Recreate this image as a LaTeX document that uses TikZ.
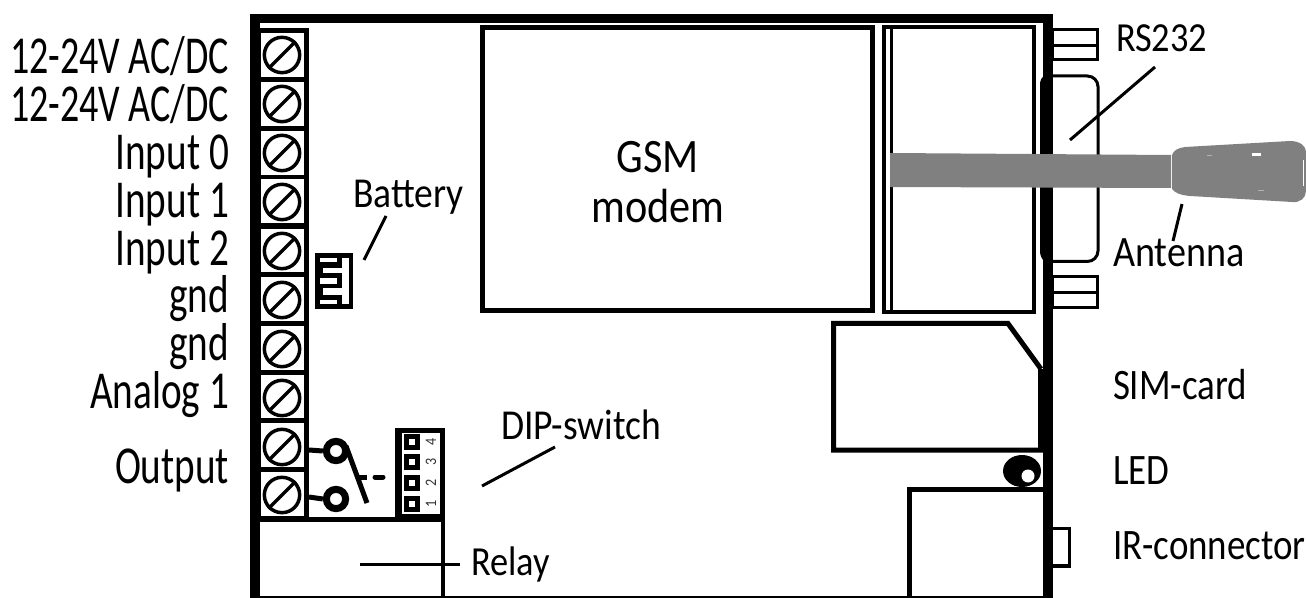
\documentclass[tikz,border=0pt]{standalone}
\usepackage{fontspec}
\setmainfont[FakeStretch=0.88]{Carlito}
\newfontfamily\tallfont[FakeStretch=0.735]{Carlito}
\newfontfamily\tallerfont[FakeStretch=0.712]{Carlito}
\newfontfamily\midfont[FakeStretch=0.85]{Carlito}
\tikzset{
  x=0.75pt,y=-0.75pt,
  px/.style={line width=#1*0.75pt},
  lbl/.style={inner sep=0pt,outer sep=0pt,font=\fontsize{31}{32}\selectfont,text=black},
  lblb/.style={inner sep=0pt,outer sep=0pt,font=\fontsize{32}{33}\selectfont,text=black},
  midlbl/.style={inner sep=0pt,outer sep=0pt,font=\midfont\fontsize{32.6}{34}\selectfont,text=black},
  leader/.style={line width=2.25pt,draw=black},
  rowlabel/.style={inner sep=0pt,outer sep=0pt,font=\tallfont\fontsize{40}{42}\selectfont,text=black,anchor=base east},
  rowlabelx/.style={rowlabel,font=\tallerfont\fontsize{40}{42}\selectfont},
  screw/.style={circle,draw=black,line width=2.6pt,fill=white,minimum size=26.5pt,inner sep=0pt},
  dipsq/.style={draw=black,fill=white,line width=3.6pt,minimum size=8.4pt,inner sep=0pt},
  diptxt/.style={inner sep=0pt,rotate=90,font=\fontsize{12}{12}\selectfont,text=black!80},
  contact/.style={circle,draw=black,line width=5.25pt,fill=white,minimum size=14.5pt,inner sep=0pt}
}
\begin{document}
\begin{tikzpicture}
\useasboundingbox (0,0) rectangle (1306,598);
% frame
\fill[black] (250,14) rectangle (1052,23.5);
\fill[black] (250,14) rectangle (260,598);
\fill[black] (1043,14) rectangle (1052.5,598);
\fill[black] (250,595.5) rectangle (1052,598);
% RS232 connector
\draw[px=3,fill=white] (1052,30) rectangle (1097,60);
\draw[px=3] (1052,46) -- (1097,46);
\draw[px=3,fill=white] (1052,277) rectangle (1097,308);
\draw[px=3] (1052,293) -- (1097,293);
\draw[px=3,rounded corners=8] (1050,76) -- (1098,76) -- (1098,261.5) -- (1050,261.5);
\fill[black] (1044,76) .. controls (1041,78) and (1040,81) .. (1040,85) -- (1040,250) .. controls (1040,255) and (1041,258) .. (1044,261) -- cycle;
% terminal block
\fill[black] (260,28) rectangle (309,519);
\foreach \i/\t/\b in {0/33/77,1/82/126,2/131/175,3/179/223,4/229/272,5/277/321,6/326/370,7/375/418,8/423/467,9/472/516}{
  \fill[white] (261,\t) rectangle (304,\b);
}
\foreach \n/\y in {s0/55,s1/104,s2/153,s3/202,s4/251,s5/300,s6/349,s7/398,s8/447,s9/495}{
  \node[screw] (\n) at (282,\y) {};
  \draw[px=3.5] (\n.225) -- (\n.45);
}
% relay box + DIP
\draw[px=5] (260,519) -- (443,519);
\draw[px=4] (443,519) -- (443,598);
\fill[black] (395,428) rectangle (445,520);
\fill[white] (402,433) rectangle (440,514);
\foreach \n/\y/\t in {d4/442/4,d3/462/3,d2/483/2,d1/504/1}{
  \node[dipsq] (\n) at (412,\y) {};
  \node[diptxt] at (431,\y) {\t};
}
% relay contacts
\node[contact] (c1) at (336,451) {};
\node[contact] (c2) at (336,499) {};
\coordinate (t1) at (309,450);
\coordinate (t2) at (309,497);
\draw[px=5] (t1) -- (c1.west);
\draw[px=5] (t2) -- (c2.west);
\draw[px=5] (346,446) -- (367,503);
\draw[px=5] (358,477) -- (367,477);
\draw[px=5,line cap=round] (375,477) -- (383,477);
% battery
\fill[black] (315,253) rectangle (353,309);
\fill[white] (342,258) rectangle (349,304);
\fill[white] (320,258) rectangle (337,262);
\fill[white] (320,278) rectangle (337,284);
\fill[white] (320,300) rectangle (337,304);
\fill[white] (323,268) rectangle (342,273);
\fill[white] (323,288.5) rectangle (342,295);
% GSM modem
\draw[px=5] (482.5,28) rectangle (872.5,311);
% double box
\draw[px=4,fill=white] (884,27.5) rectangle (1034,312.5);
\draw[px=3] (891.5,27.5) -- (891.5,312.5);
% SIM
\draw[px=5] (1041,369) -- (1008,323.5) -- (833.5,323.5) -- (833.5,450) -- (1043,450);
\fill[black] (1038,369) rectangle (1043,450);
% LED
\fill[black] (1022,471) ellipse[x radius=19,y radius=16];
\fill[white] (1028,476) circle[radius=6.5];
% IR
\draw[px=5] (1043,489.5) -- (909,489.5) -- (909,598);
\draw[px=3.5] (1052,528.5) -- (1069.5,528.5) -- (1069.5,566) -- (1052,566);
% antenna
\fill[black!50] (890,153) -- (1171,155) -- (1171,188) -- (890,187) -- cycle;
\fill[black!50] (1172,155) .. controls (1174,150) and (1178,148) .. (1185,147)
  -- (1290,141) .. controls (1300,141) and (1306,146) .. (1306,152)
  -- (1306,191) .. controls (1306,198) and (1300,203) .. (1292,202)
  -- (1190,196) .. controls (1180,195) and (1175,193) .. (1172,189) -- cycle;
\fill[white] (1252,153) rectangle (1261,156);
\fill[white] (1303,160) rectangle (1304,186);
\fill[black!30] (1207,155) rectangle (1212,156);
\fill[black!30] (1258,190.5) rectangle (1264,191.5);
% labels and leaders
\node[lbl,anchor=base west] (rs) at (1116,52) {RS232};
\node[lbl,anchor=base west,font=\fontsize{32.5}{34}\selectfont] (ant) at (1113,267) {Antenna};
\node[midlbl,anchor=base west] (sim) at (1113,399) {SIM-card};
\node[midlbl,anchor=base west] (led) at (1113,484) {LED};
\node[midlbl,anchor=base west] (ir) at (1113,559) {IR-connector};
\node[lbl,anchor=base west] (rel) at (471,575) {Relay};
\node[lblb,anchor=base west] (dip) at (501,439) {DIP-switch};
\node[lblb,anchor=base west] (bat) at (353,208) {Battery};
\node[inner sep=0pt,anchor=center,align=center,font=\fontsize{36}{37}\selectfont] (gsm) at (658,182) {GSM\\modem};
\coordinate (la) at (1070,140); \coordinate (lb) at (1155,67);
\draw[leader] (la) -- (lb);
\coordinate (lc) at (1182,204); \coordinate (ld) at (1173,241);
\draw[leader] (lc) -- (ld);
\coordinate (le) at (360,564); \coordinate (lf) at (460,564);
\draw[leader] (le) -- (lf);
\coordinate (lg) at (482,486); \coordinate (lh) at (555,447);
\draw[leader] (lg) -- (lh);
\coordinate (li) at (364,260); \coordinate (lj) at (386,216);
\draw[leader] (li) -- (lj);
% left labels
\node[rowlabelx] (l0) at (229,74) {12-24V AC/DC};
\node[rowlabelx] (l1) at (229,122) {12-24V AC/DC};
\node[rowlabel] (l2) at (229,170) {Input 0};
\node[rowlabel] (l3) at (229,218) {Input 1};
\node[rowlabel] (l4) at (229,266) {Input 2};
\node[rowlabel] (l5) at (229,313) {gnd};
\node[rowlabel] (l6) at (229,361) {gnd};
\node[rowlabel] (l7) at (229,408) {Analog 1};
\node[rowlabel] (l8) at (229,483) {Output};
\end{tikzpicture}
\end{document}
